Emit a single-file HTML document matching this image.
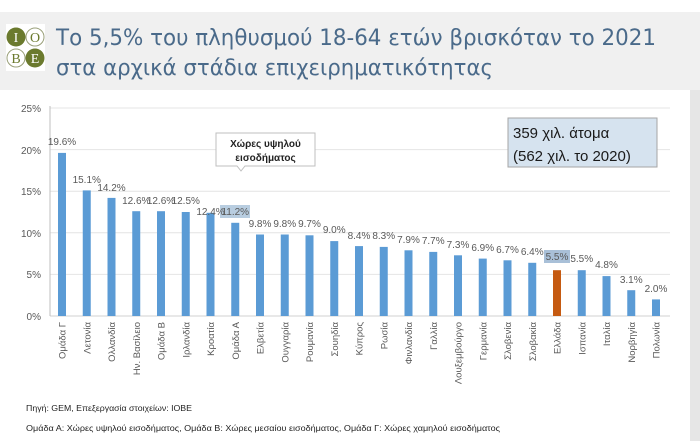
<!DOCTYPE html>
<html><head><meta charset="utf-8"><style>
html,body{margin:0;padding:0;background:#fff;}
body{width:700px;height:441px;position:relative;overflow:hidden;font-family:"Liberation Sans","DejaVu Sans",sans-serif;}
</style></head><body>
<svg width="700" height="441" viewBox="0 0 700 441" xmlns="http://www.w3.org/2000/svg" font-family="Liberation Sans, DejaVu Sans, sans-serif">
<rect x="0" y="0" width="700" height="441" fill="#fff"/>
<rect x="0" y="12" width="700" height="78" fill="#f0f0f0"/>
<rect x="690" y="90" width="10" height="351" fill="#e6e6e6"/>
<rect x="6" y="24" width="39" height="47" fill="#fff"/>
<circle cx="16" cy="37" r="9.5" fill="#6b7a2e"/>
<circle cx="35" cy="37" r="9" fill="#fff" stroke="#9aa07a" stroke-width="1"/>
<circle cx="16" cy="58" r="9" fill="#fff" stroke="#9aa07a" stroke-width="1"/>
<circle cx="35" cy="58" r="9.5" fill="#6b7a2e"/>
<g font-family="Liberation Serif, serif" font-size="14" text-anchor="middle">
<text x="16" y="42" fill="#fff">I</text><text x="35" y="42" fill="#6b7a2e">O</text>
<text x="16" y="63" fill="#6b7a2e">B</text><text x="35" y="63" fill="#fff">E</text></g>
<text x="56" y="45" font-size="22" fill="#4a6a8a" font-family="DejaVu Sans, sans-serif" textLength="600" lengthAdjust="spacingAndGlyphs">Το 5,5% του πληθυσμού 18-64 ετών βρισκόταν το 2021</text>
<text x="56" y="75" font-size="22" fill="#4a6a8a" font-family="DejaVu Sans, sans-serif" textLength="437" lengthAdjust="spacingAndGlyphs">στα αρχικά στάδια επιχειρηματικότητας</text>
<g stroke="#e4e4e4" stroke-width="1">
<line x1="50" y1="108" x2="670" y2="108"/><line x1="50" y1="149.6" x2="670" y2="149.6"/>
<line x1="50" y1="191.2" x2="670" y2="191.2"/><line x1="50" y1="232.8" x2="670" y2="232.8"/>
<line x1="50" y1="274.4" x2="670" y2="274.4"/></g>
<line x1="50" y1="316" x2="670" y2="316" stroke="#d0d0d0"/>
<line x1="50" y1="106" x2="50" y2="316" stroke="#bfbfbf"/>
<g font-size="10" fill="#595959" text-anchor="end">
<text x="41" y="112">25%</text><text x="41" y="154">20%</text><text x="41" y="195">15%</text>
<text x="41" y="237">10%</text><text x="41" y="278">5%</text><text x="41" y="320">0%</text></g>
<rect x="220" y="205" width="30" height="13" fill="#b8cde0"/>
<rect x="544" y="250" width="26" height="13" fill="#a9c0d8"/>
<g fill="#5b9bd5">
<rect x="58" y="152.9" width="8" height="163.1"/>
<rect x="82.75" y="190.4" width="8" height="125.6"/>
<rect x="107.5" y="197.9" width="8" height="118.1"/>
<rect x="132.25" y="211.2" width="8" height="104.8"/>
<rect x="157" y="211.2" width="8" height="104.8"/>
<rect x="181.75" y="212" width="8" height="104"/>
<rect x="206.5" y="212.8" width="8" height="103.2"/>
<rect x="231.25" y="222.8" width="8" height="93.2"/>
<rect x="256" y="234.5" width="8" height="81.5"/>
<rect x="280.75" y="234.5" width="8" height="81.5"/>
<rect x="305.5" y="235.3" width="8" height="80.7"/>
<rect x="330.25" y="241.1" width="8" height="74.9"/>
<rect x="355" y="246.1" width="8" height="69.9"/>
<rect x="379.75" y="246.9" width="8" height="69.1"/>
<rect x="404.5" y="250.3" width="8" height="65.7"/>
<rect x="429.25" y="251.9" width="8" height="64.1"/>
<rect x="454" y="255.3" width="8" height="60.7"/>
<rect x="478.75" y="258.6" width="8" height="57.4"/>
<rect x="503.5" y="260.3" width="8" height="55.7"/>
<rect x="528.25" y="262.8" width="8" height="53.2"/>
<rect x="553" y="270.2" width="8" height="45.8" fill="#c55a11"/>
<rect x="577.75" y="270.2" width="8" height="45.8"/>
<rect x="602.5" y="276.1" width="8" height="39.9"/>
<rect x="627.25" y="290.2" width="8" height="25.8"/>
<rect x="652" y="299.4" width="8" height="16.6"/>
</g>
<g font-size="10" fill="#595959" text-anchor="middle">
<text x="62" y="145">19.6%</text>
<text x="86.75" y="183">15.1%</text>
<text x="111.5" y="191">14.2%</text>
<text x="136.25" y="204">12.6%</text>
<text x="161" y="204">12.6%</text>
<text x="185.75" y="204">12.5%</text>
<text x="210.5" y="215">12.4%</text>
<text x="235.25" y="215">11.2%</text>
<text x="260" y="227">9.8%</text>
<text x="284.75" y="227">9.8%</text>
<text x="309.5" y="227">9.7%</text>
<text x="334.25" y="233">9.0%</text>
<text x="359" y="239">8.4%</text>
<text x="383.75" y="239">8.3%</text>
<text x="408.5" y="243">7.9%</text>
<text x="433.25" y="244">7.7%</text>
<text x="458" y="248">7.3%</text>
<text x="482.75" y="251">6.9%</text>
<text x="507.5" y="253">6.7%</text>
<text x="532.25" y="255">6.4%</text>
<text x="557" y="260">5.5%</text>
<text x="581.75" y="262">5.5%</text>
<text x="606.5" y="268">4.8%</text>
<text x="631.25" y="283">3.1%</text>
<text x="656" y="292">2.0%</text>
</g>
<g font-size="9.5" fill="#595959" text-anchor="end">
<text transform="translate(65.5,322) rotate(-90)">Ομάδα Γ</text>
<text transform="translate(90.25,322) rotate(-90)">Λετονία</text>
<text transform="translate(115,322) rotate(-90)">Ολλανδία</text>
<text transform="translate(139.75,322) rotate(-90)">Ην. Βασίλειο</text>
<text transform="translate(164.5,322) rotate(-90)">Ομάδα Β</text>
<text transform="translate(189.25,322) rotate(-90)">Ιρλανδία</text>
<text transform="translate(214,322) rotate(-90)">Κροατία</text>
<text transform="translate(238.75,322) rotate(-90)">Ομάδα Α</text>
<text transform="translate(263.5,322) rotate(-90)">Ελβετία</text>
<text transform="translate(288.25,322) rotate(-90)">Ουγγαρία</text>
<text transform="translate(313,322) rotate(-90)">Ρουμανία</text>
<text transform="translate(337.75,322) rotate(-90)">Σουηδία</text>
<text transform="translate(362.5,322) rotate(-90)">Κύπρος</text>
<text transform="translate(387.25,322) rotate(-90)">Ρωσία</text>
<text transform="translate(412,322) rotate(-90)">Φινλανδία</text>
<text transform="translate(436.75,322) rotate(-90)">Γαλλία</text>
<text transform="translate(461.5,322) rotate(-90)">Λουξεμβούργο</text>
<text transform="translate(486.25,322) rotate(-90)">Γερμανία</text>
<text transform="translate(511,322) rotate(-90)">Σλοβενία</text>
<text transform="translate(535.75,322) rotate(-90)">Σλοβακία</text>
<text transform="translate(560.5,322) rotate(-90)">Ελλάδα</text>
<text transform="translate(585.25,322) rotate(-90)">Ισπανία</text>
<text transform="translate(610,322) rotate(-90)">Ιταλία</text>
<text transform="translate(634.75,322) rotate(-90)">Νορβηγία</text>
<text transform="translate(659.5,322) rotate(-90)">Πολωνία</text>
</g>
<path d="M216,133 H315 V166 H245 L241,171 L237,166 H216 Z" fill="#fff" stroke="#bfbfbf"/>
<g font-size="10" font-weight="bold" fill="#222" text-anchor="middle">
<text x="265.5" y="147">Χώρες υψηλού</text><text x="265.5" y="161">εισοδήματος</text></g>
<rect x="508" y="118" width="149" height="49" fill="#d6e3ef" stroke="#a6a6a6"/>
<g font-size="15" fill="#1a1a1a"><text x="513" y="138">359 χιλ. άτομα</text><text x="513" y="161">(562 χιλ. το 2020)</text></g>
<g font-size="8" fill="#222">
<text x="26" y="411" textLength="166" lengthAdjust="spacingAndGlyphs">Πηγή: GEM, Επεξεργασία στοιχείων: ΙΟΒΕ</text>
<text x="26" y="431" textLength="474" lengthAdjust="spacingAndGlyphs">Ομάδα Α: Χώρες υψηλού εισοδήματος, Ομάδα Β: Χώρες μεσαίου εισοδήματος, Ομάδα Γ: Χώρες χαμηλού εισοδήματος</text></g>
</svg>
</body></html>
